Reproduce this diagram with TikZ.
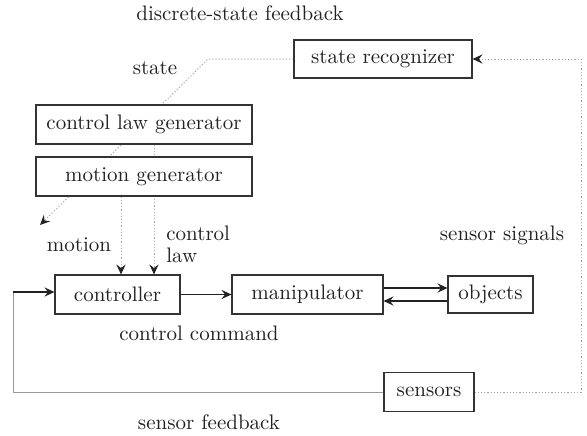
\documentclass[tikz,border=0pt]{standalone}
\usetikzlibrary{arrows.meta,backgrounds}
\definecolor{boxline}{HTML}{333333}
\definecolor{dotline}{HTML}{A8A8A8}
\definecolor{fbline}{HTML}{9A9A9A}
\definecolor{ink}{HTML}{222222}
\tikzset{
  blk/.style={draw=boxline, line width=0.55pt, fill=white, inner sep=0pt,
    font=\fontsize{10.5}{12}\selectfont, text=ink},
  lbl/.style={inner sep=0pt, font=\fontsize{10.5}{12}\selectfont, text=ink},
  tip/.style={-{Stealth[length=5pt,width=4.6pt,inset=1.8pt,color=ink]}},
  solidarr/.style={tip, draw=ink, line width=0.55pt},
  dotarr/.style={draw=dotline, line width=0.5pt, dash pattern=on 0.6pt off 1pt},
  fbarr/.style={draw=fbline, line width=0.5pt}
}
\begin{document}
\begin{tikzpicture}[x=0.5pt,y=-0.5pt]
\useasboundingbox (0,0) rectangle (587,435);
% blocks
\node[blk, minimum width=89pt, minimum height=19pt] (sr) at (383,59) {state recognizer};
\node[blk, minimum width=108pt, minimum height=19.5pt] (clg) at (144,124.5) {control law generator};
\node[blk, minimum width=108pt, minimum height=19.5pt] (mg) at (144,176.5) {motion generator};
\node[blk, minimum width=62.5pt, minimum height=19.5pt] (ctrl) at (117.5,294.5) {controller};
\node[blk, minimum width=75.5pt, minimum height=19.5pt] (man) at (307.5,294.5) {manipulator};
\node[blk, minimum width=42.5pt, minimum height=18.5pt] (obj) at (490.5,294.5) {objects};
\node[blk, minimum width=45pt, minimum height=19.5pt] (sens) at (429,392) {sensors};
% labels
\node[lbl] (t1) at (240,13) {discrete-state feedback};
\node[lbl] (t2) at (155,68) {state};
\node[lbl] (t3) at (79,245) {motion};
\node[lbl, anchor=west, align=left, font=\fontsize{10.5}{11}\selectfont] (t4) at (166,244) {control\\law};
\node[lbl] (t5) at (502,235) {sensor signals};
\node[lbl] (t6) at (199,333) {control command};
\node[lbl] (t7) at (209,422) {sensor feedback};
% helper coordinates
\coordinate (bend) at (208,59);
\coordinate (mtip) at (40,225);
\coordinate (xa) at (121,0);
\coordinate (xb) at (154,0);
\coordinate (y288) at (0,288);
\coordinate (y301) at (0,301);
\coordinate (fbtop) at (13,292);
\coordinate (fbbot) at (13,392);
\coordinate (rbot) at (581,392);
\coordinate (rtop) at (581,59);
% connectors
\begin{scope}[on background layer]
\draw[dotarr, tip] (sr.west) -- (bend) -- (mtip);
\draw[dotarr, tip] (clg.south -| xb) -- (ctrl.north -| xb);
\end{scope}
\draw[dotarr, tip] (mg.south -| xa) -- (ctrl.north -| xa);
\draw[solidarr] (ctrl) -- (man);
\draw[solidarr] (man.east |- y288) -- (obj.west |- y288);
\draw[solidarr] (obj.west |- y301) -- (man.east |- y301);
\draw[fbarr] (sens.west) -- (fbbot) -- (fbtop);
\draw[solidarr] (fbtop) -- (ctrl.west |- fbtop);
\draw[dotarr, tip] (sens.east) -- (rbot) -- (rtop) -- (sr.east);
\end{tikzpicture}
\end{document}
